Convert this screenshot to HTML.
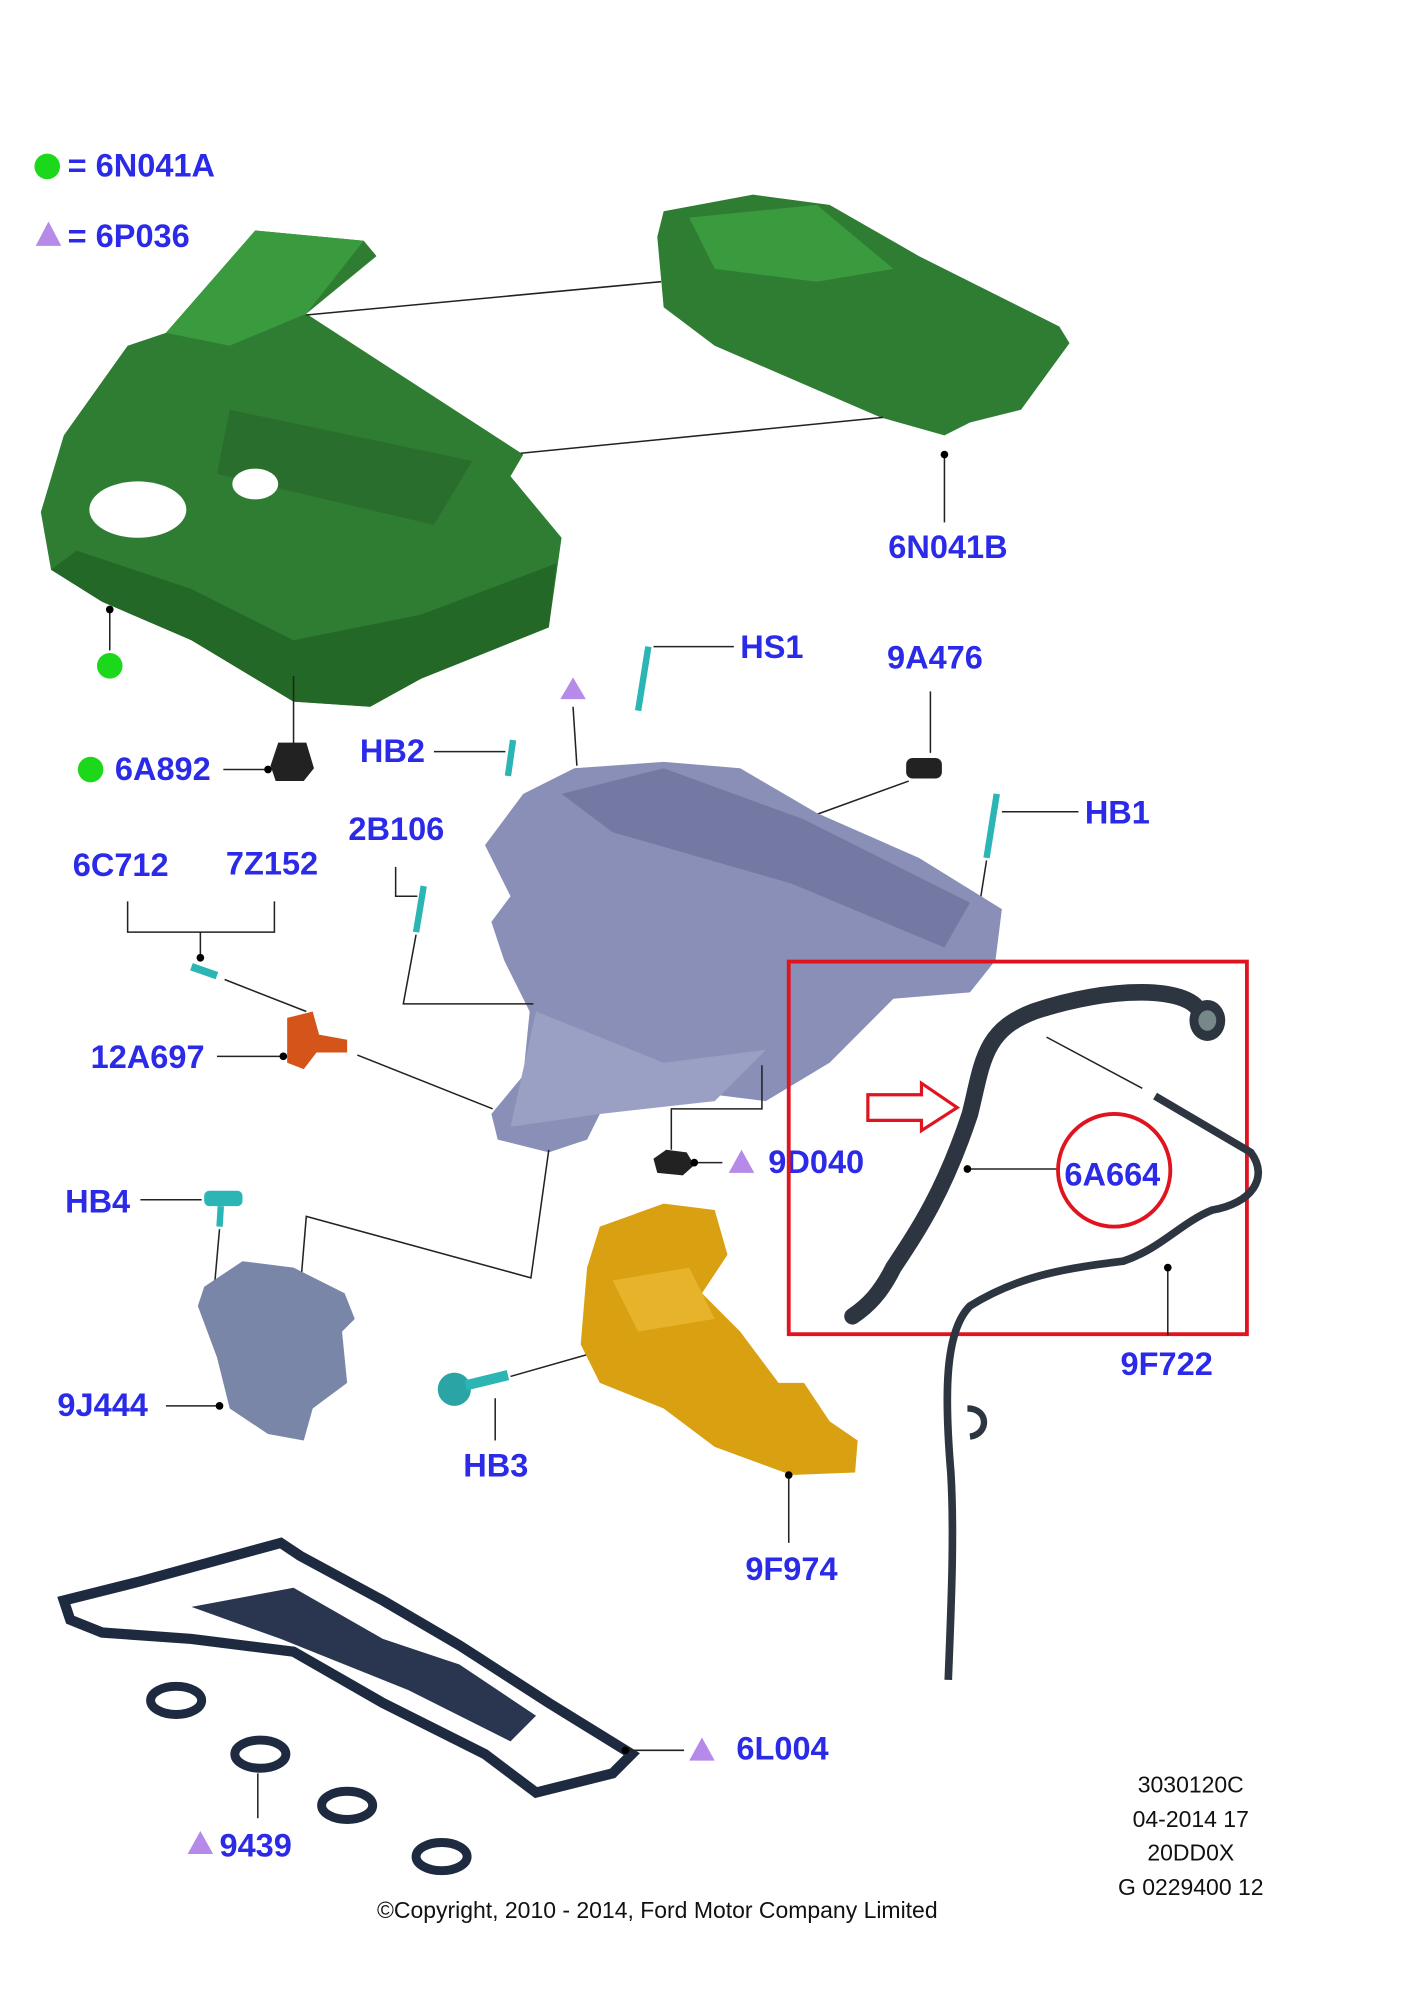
<!DOCTYPE html>
<html><head><meta charset="utf-8"><style>
html,body{margin:0;padding:0;background:#fff;}
svg{display:block;}
.l{font-family:"Liberation Sans",Arial,sans-serif;font-weight:bold;font-size:25.5px;fill:#2a2ae8;}
.s{font-family:"Liberation Sans",Arial,sans-serif;font-size:18px;fill:#111;}
.ln{stroke:#222;stroke-width:1.2;fill:none;}
</style></head><body>
<svg width="1409" height="2000" viewBox="0 0 1104 1562" preserveAspectRatio="none" xmlns="http://www.w3.org/2000/svg">
<rect width="1104" height="1562" fill="#fff"/>
<circle cx="37" cy="130" r="10" fill="#1bd81b"/>
<text x="53" y="138" class="l">= 6N041A</text>
<polygon points="28,192 38,173 48,192" fill="#b58ae8"/>
<text x="53" y="193" class="l">= 6P036</text>
<!-- big green cover -->
<path d="M200,180 L285,188 L295,200 L240,245 L410,355 L400,372 L440,420 L430,490 L330,530 L290,552 L230,548 L150,500 L80,470 L40,445 L32,400 L50,340 L100,270 L130,260 Z" fill="#2e7d32"/>
<path d="M200,180 L285,188 L240,245 L180,270 L130,260 Z" fill="#3a9a3e"/>
<path d="M40,445 L80,470 L150,500 L230,548 L290,552 L330,530 L430,490 L436,440 L330,480 L230,500 L150,460 L60,430 Z" fill="#236826"/>
<path d="M180,320 L370,360 L340,410 L170,370 Z" fill="#2a6e2d"/>
<ellipse cx="108" cy="398" rx="38" ry="22" fill="#fff"/>
<ellipse cx="200" cy="378" rx="18" ry="12" fill="#fff"/>
<!-- small green cover -->
<path d="M520,165 L590,152 L650,160 L720,200 L830,255 L838,268 L800,320 L760,330 L740,340 L690,326 L560,270 L520,240 L515,185 Z" fill="#2e7d32"/>
<path d="M540,170 L640,160 L700,210 L640,220 L560,210 Z" fill="#3a9a3e"/>
<line x1="240" y1="246" x2="518" y2="220" class="ln"/>
<line x1="408" y1="354" x2="692" y2="326" class="ln"/>
<line x1="740" y1="355" x2="740" y2="408" class="ln"/><circle cx="740" cy="355" r="3" fill="#000"/>
<text x="696" y="436" class="l">6N041B</text>
<line x1="86" y1="476" x2="86" y2="508" class="ln"/><circle cx="86" cy="476" r="3" fill="#000"/>
<circle cx="86" cy="520" r="10" fill="#1bd81b"/>
<line x1="230" y1="528" x2="230" y2="585" class="ln"/>
<path d="M212,598 L218,580 L240,580 L246,600 L238,610 L216,610 Z" fill="#222"/>
<circle cx="71" cy="601" r="10" fill="#1bd81b"/>
<text x="90" y="609" class="l">6A892</text>
<line x1="175" y1="601" x2="210" y2="601" class="ln"/><circle cx="210" cy="601" r="3" fill="#000"/>
<line x1="508" y1="505" x2="500" y2="555" stroke="#2bb5b5" stroke-width="5"/>
<line x1="512" y1="505" x2="575" y2="505" class="ln"/>
<text x="580" y="514" class="l">HS1</text>
<polygon points="439,546 449,529 459,546" fill="#b58ae8"/>
<line x1="449" y1="552" x2="452" y2="598" class="ln"/>
<text x="282" y="595" class="l">HB2</text>
<line x1="340" y1="587" x2="396" y2="587" class="ln"/>
<line x1="402" y1="578" x2="398" y2="606" stroke="#2bb5b5" stroke-width="5"/>
<text x="695" y="522" class="l">9A476</text>
<line x1="729" y1="540" x2="729" y2="588" class="ln"/>
<rect x="710" y="592" width="28" height="16" rx="5" fill="#222"/>
<line x1="712" y1="610" x2="640" y2="636" class="ln"/>
<line x1="781" y1="620" x2="773" y2="670" stroke="#2bb5b5" stroke-width="5"/>
<line x1="785" y1="634" x2="845" y2="634" class="ln"/>
<text x="850" y="643" class="l">HB1</text>
<line x1="773" y1="672" x2="766" y2="716" class="ln"/>
<!-- manifold -->
<path d="M410,620 L450,600 L520,595 L580,600 L640,635 L720,670 L785,710 L780,750 L760,775 L700,780 L650,830 L600,860 L520,850 L470,870 L460,890 L430,900 L390,890 L385,870 L410,840 L415,790 L395,750 L385,720 L400,700 L380,660 Z" fill="#8a8fb8"/>
<path d="M440,620 L520,600 L630,640 L760,705 L740,740 L620,690 L480,650 Z" fill="#7479a3"/>
<path d="M420,790 L520,830 L600,820 L560,860 L470,870 L400,880 Z" fill="#9aa0c4"/>
<text x="273" y="656" class="l">2B106</text>
<polyline points="310,677 310,700 327,700" class="ln"/>
<line x1="332" y1="692" x2="326" y2="728" stroke="#2bb5b5" stroke-width="5"/>
<polyline points="326,730 316,784 418,784" class="ln"/>
<text x="57" y="684" class="l">6C712</text>
<text x="177" y="683" class="l">7Z152</text>
<polyline points="100,704 100,728 215,728 215,704" class="ln"/>
<line x1="157" y1="728" x2="157" y2="748" class="ln"/>
<circle cx="157" cy="748" r="3" fill="#000"/>
<line x1="150" y1="755" x2="170" y2="762" stroke="#2bb5b5" stroke-width="6"/>
<line x1="176" y1="765" x2="240" y2="790" class="ln"/>
<path d="M225,795 L245,790 L250,808 L272,812 L272,822 L248,822 L238,835 L225,830 Z" fill="#d4541a"/>
<text x="71" y="834" class="l">12A697</text>
<line x1="170" y1="825" x2="222" y2="825" class="ln"/><circle cx="222" cy="825" r="3" fill="#000"/>
<line x1="280" y1="824" x2="386" y2="866" class="ln"/>
<polyline points="430,898 416,998 240,950 235,1010" class="ln"/>
<polyline points="597,832 597,866 526,866 526,898" class="ln"/>
<path d="M512,905 L522,898 L538,900 L544,910 L535,918 L515,916 Z" fill="#222"/>
<line x1="544" y1="908" x2="566" y2="908" class="ln"/><circle cx="544" cy="908" r="3" fill="#000"/>
<polygon points="571,916 581,898 591,916" fill="#b58ae8"/>
<text x="602" y="916" class="l">9D040</text>
<text x="51" y="947" class="l">HB4</text>
<line x1="110" y1="937" x2="158" y2="937" class="ln"/>
<rect x="160" y="930" width="30" height="12" rx="4" fill="#2bb5b5"/>
<line x1="173" y1="942" x2="172" y2="958" stroke="#2bb5b5" stroke-width="5"/>
<line x1="172" y1="960" x2="168" y2="1005" class="ln"/>
<path d="M190,985 L230,990 L270,1010 L278,1030 L268,1040 L272,1080 L245,1100 L238,1125 L210,1120 L180,1100 L170,1060 L155,1020 L160,1005 Z" fill="#7a86a8"/>
<text x="45" y="1106" class="l">9J444</text>
<line x1="130" y1="1098" x2="172" y2="1098" class="ln"/><circle cx="172" cy="1098" r="3" fill="#000"/>
<circle cx="356" cy="1085" r="13" fill="#2aa4a4"/>
<line x1="365" y1="1082" x2="398" y2="1074" stroke="#2bb5b5" stroke-width="8"/>
<line x1="388" y1="1092" x2="388" y2="1125" class="ln"/>
<text x="363" y="1153" class="l">HB3</text>
<line x1="400" y1="1075" x2="460" y2="1058" class="ln"/>
<path d="M470,958 L520,940 L560,945 L570,980 L550,1010 L580,1040 L610,1080 L630,1080 L650,1110 L672,1125 L670,1150 L620,1152 L560,1130 L520,1100 L470,1080 L455,1050 L460,990 Z" fill="#d9a012"/>
<path d="M480,1000 L540,990 L560,1030 L500,1040 Z" fill="#e6b32a"/>
<line x1="618" y1="1152" x2="618" y2="1205" class="ln"/><circle cx="618" cy="1152" r="3" fill="#000"/>
<text x="584" y="1234" class="l">9F974</text>
<rect x="618" y="751" width="359" height="291" fill="none" stroke="#e0141e" stroke-width="3"/>
<path d="M940,790 C930,770 870,770 810,790 C770,805 770,830 760,870 C740,930 720,960 700,990 C690,1010 680,1020 668,1028" fill="none" stroke="#2d3540" stroke-width="13" stroke-linecap="round"/>
<ellipse cx="946" cy="797" rx="14" ry="16" fill="#2d3540"/>
<ellipse cx="946" cy="797" rx="7" ry="8" fill="#788"/>
<path d="M905,856 L980,900 C995,920 980,940 950,945 C925,955 910,975 880,985 C840,990 800,995 760,1020 C740,1040 740,1090 745,1150 C748,1200 745,1260 743,1312" fill="none" stroke="#2d3540" stroke-width="6"/>
<path d="M758,1100 C775,1100 775,1120 760,1122" fill="none" stroke="#2d3540" stroke-width="5"/>
<line x1="820" y1="810" x2="895" y2="850" class="ln"/>
<line x1="758" y1="913" x2="830" y2="913" class="ln"/><circle cx="758" cy="913" r="3" fill="#000"/>
<circle cx="873" cy="914" r="44" fill="none" stroke="#e0141e" stroke-width="3"/>
<text x="834" y="926" class="l">6A664</text>
<path d="M680,855 L722,855 L722,846 L750,865 L722,883 L722,875 L680,875 Z" fill="#fff" stroke="#e0141e" stroke-width="2.5"/>
<line x1="915" y1="990" x2="915" y2="1043" class="ln"/><circle cx="915" cy="990" r="3" fill="#000"/>
<text x="878" y="1074" class="l">9F722</text>
<path d="M50,1250 L110,1235 L220,1205 L235,1215 L300,1250 L360,1285 L430,1330 L495,1370 L480,1385 L420,1400 L380,1370 L300,1330 L230,1290 L150,1280 L80,1275 L55,1265 Z" fill="none" stroke="#1e2a40" stroke-width="8"/>
<path d="M150,1255 L230,1240 L300,1280 L360,1300 L420,1340 L400,1360 L320,1320 L220,1280 Z" fill="#2a3550"/>
<ellipse cx="138" cy="1328" rx="20" ry="11" fill="none" stroke="#1e2a40" stroke-width="7"/>
<ellipse cx="204" cy="1370" rx="20" ry="11" fill="none" stroke="#1e2a40" stroke-width="7"/>
<ellipse cx="272" cy="1410" rx="20" ry="11" fill="none" stroke="#1e2a40" stroke-width="7"/>
<ellipse cx="346" cy="1450" rx="20" ry="11" fill="none" stroke="#1e2a40" stroke-width="7"/>
<line x1="202" y1="1385" x2="202" y2="1420" class="ln"/>
<polygon points="147,1448 157,1430 167,1448" fill="#b58ae8"/>
<text x="172" y="1450" class="l">9439</text>
<line x1="490" y1="1367" x2="536" y2="1367" class="ln"/><circle cx="490" cy="1367" r="3" fill="#000"/>
<polygon points="540,1375 550,1357 560,1375" fill="#b58ae8"/>
<text x="577" y="1374" class="l">6L004</text>
<text x="933" y="1400" class="s" text-anchor="middle">3030120C</text>
<text x="933" y="1427" class="s" text-anchor="middle">04-2014 17</text>
<text x="933" y="1453" class="s" text-anchor="middle">20DD0X</text>
<text x="933" y="1480" class="s" text-anchor="middle">G 0229400 12</text>
<text x="515" y="1498" class="s" text-anchor="middle">©Copyright, 2010 - 2014, Ford Motor Company Limited</text>
</svg>
</body></html>
